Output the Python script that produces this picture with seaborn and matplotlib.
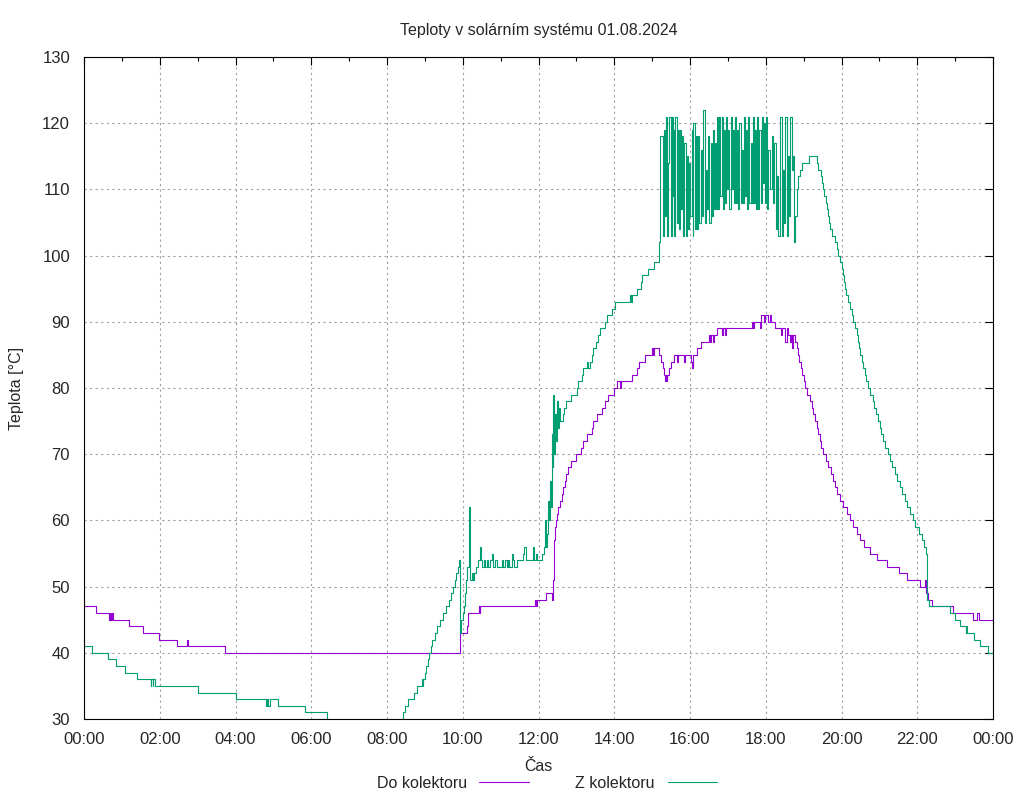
import matplotlib
matplotlib.use("Agg")
import matplotlib.pyplot as plt
from matplotlib.lines import Line2D
from matplotlib.ticker import MultipleLocator
import pandas as pd
import seaborn as sns

# --- data (time in hours, temperature in degC) ---
nazev = "Teploty v solárním systému 01.08.2024"
serie = ["Do kolektoru", "Z kolektoru"]
barvy = ["#9400d3", "#009e73"]
popisky_casu = ["00:00", "02:00", "04:00", "06:00", "08:00", "10:00", "12:00",
                "14:00", "16:00", "18:00", "20:00", "22:00", "00:00"]

# Do kolektoru
do_noc_cas = [0.00, 0.31, 0.67, 0.69, 0.71, 0.73, 0.76, 1.19, 1.57, 1.99,
              2.46, 2.71, 2.74, 3.72, 9.93, 10.12, 10.15, 10.44, 10.45, 10.46,
              11.91, 11.93, 11.95, 12.21, 12.36]
do_noc_tep = [47, 46, 45, 46, 45, 46, 45, 44, 43, 42,
              41, 42, 41, 40, 43, 44, 46, 47, 46, 47,
              48, 47, 48, 49, 48]

do_den_cas = [12.39, 12.41, 12.43, 12.46, 12.49, 12.52, 12.57, 12.61, 12.66, 12.70,
              12.73, 12.79, 12.85, 12.99, 13.11, 13.18, 13.27, 13.40, 13.45, 13.55,
              13.67, 13.76, 13.83, 14.00, 14.08, 14.15, 14.19, 14.46, 14.59, 14.66,
              14.81, 14.99, 15.02, 15.04, 15.18, 15.23, 15.28, 15.31, 15.33, 15.36,
              15.38, 15.40, 15.45, 15.49, 15.58, 15.65, 15.67, 15.84, 15.86, 16.02,
              16.05, 16.07, 16.09, 16.18, 16.28, 16.49, 16.52, 16.55, 16.60, 16.63,
              16.70, 16.84, 16.87, 16.93, 16.96, 17.63, 17.66, 17.69, 17.85, 17.87,
              17.95, 17.98, 18.05, 18.10, 18.15]
do_den_tep = [51, 57, 59, 60, 61, 62, 63, 64, 65, 66,
              67, 68, 69, 70, 71, 72, 73, 74, 75, 76,
              77, 78, 79, 80, 81, 80, 81, 82, 83, 84,
              85, 86, 85, 86, 85, 84, 83, 82, 81, 82,
              81, 82, 83, 84, 85, 84, 85, 84, 85, 84,
              83, 84, 85, 86, 87, 88, 87, 88, 87, 88,
              89, 88, 89, 88, 89, 90, 89, 90, 89, 91,
              90, 91, 90, 91, 90]

do_vecer_cas = [18.24, 18.40, 18.43, 18.51, 18.56, 18.60, 18.64, 18.67, 18.70, 18.73,
                18.77, 18.82, 18.86, 18.89, 18.92, 18.96, 19.00, 19.04, 19.10, 19.17,
                19.21, 19.26, 19.30, 19.34, 19.38, 19.43, 19.47, 19.52, 19.60, 19.65,
                19.72, 19.78, 19.83, 19.89, 19.96, 20.05, 20.14, 20.22, 20.30, 20.40,
                20.49, 20.60, 20.75, 20.93, 21.19, 21.53, 21.74, 22.06, 22.21, 22.24,
                22.29, 22.38, 22.95, 23.46, 23.59, 23.64, 24.00]
do_vecer_tep = [89, 88, 89, 87, 89, 88, 87, 88, 86, 88,
                87, 86, 85, 84, 83, 82, 81, 80, 79, 78,
                77, 76, 75, 74, 73, 72, 71, 70, 69, 68,
                67, 66, 65, 64, 63, 62, 61, 60, 59, 58,
                57, 56, 55, 54, 53, 52, 51, 50, 51, 49,
                48, 47, 46, 45, 46, 45, 45]

# Z kolektoru
z_noc_cas = [0.00, 0.20, 0.64, 0.85, 1.09, 1.41, 1.76, 1.78, 1.81, 1.83,
             1.88, 3.02, 4.01, 4.81, 4.83, 4.86, 4.90, 5.13, 5.83, 6.42]
z_noc_tep = [41, 40, 39, 38, 37, 36, 35, 36, 35, 36,
             35, 34, 33, 32, 33, 32, 33, 32, 31, 29]

z_rano_cas = [8.37, 8.41, 8.47, 8.55, 8.70, 8.78, 8.92, 8.94, 8.96, 9.00,
              9.03, 9.07, 9.11, 9.16, 9.20, 9.26, 9.32, 9.40, 9.47, 9.55,
              9.64, 9.70, 9.75, 9.79, 9.83, 9.87, 9.89, 9.92, 9.96, 10.00,
              10.02, 10.05, 10.09, 10.12, 10.16, 10.18, 10.20, 10.24, 10.27, 10.30,
              10.35, 10.41, 10.46, 10.48, 10.52, 10.56, 10.60, 10.63, 10.66, 10.72,
              10.76, 10.80, 10.86, 10.90, 11.03, 11.07, 11.11, 11.16, 11.20, 11.23,
              11.29, 11.32, 11.35, 11.42, 11.60, 11.63, 11.66, 11.86, 11.89, 11.93,
              11.96]
z_rano_tep = [30, 31, 32, 33, 34, 35, 36, 35, 36, 37,
              38, 39, 40, 41, 42, 43, 44, 45, 46, 47,
              48, 49, 50, 51, 52, 53, 54, 43, 45, 46,
              47, 49, 51, 53, 62, 59, 51, 52, 51, 52,
              53, 54, 56, 54, 53, 54, 53, 54, 53, 54,
              55, 53, 54, 53, 54, 53, 54, 53, 54, 53,
              55, 54, 53, 54, 55, 56, 54, 56, 54, 55,
              54]

z_odp_cas = [12.04, 12.08, 12.15, 12.17, 12.19, 12.22, 12.25, 12.27, 12.30, 12.32,
             12.35, 12.37, 12.39, 12.41, 12.44, 12.46, 12.49, 12.51, 12.54, 12.58,
             12.64, 12.67, 12.73, 12.85, 13.01, 13.05, 13.14, 13.18, 13.27, 13.32,
             13.35, 13.40, 13.45, 13.52, 13.58, 13.62, 13.76, 13.82, 13.93, 14.02,
             14.42, 14.44, 14.46, 14.59, 14.70, 14.72, 14.90, 15.05, 15.17, 15.19,
             15.20]
z_odp_tep = [54, 55, 56, 60, 56, 58, 63, 60, 66, 62,
             73, 68, 79, 70, 76, 72, 78, 74, 77, 75,
             76, 77, 78, 79, 80, 81, 82, 83, 84, 83,
             84, 85, 86, 87, 88, 89, 90, 91, 92, 93,
             94, 93, 94, 95, 96, 97, 98, 99, 100, 102,
             108]

# kolektor kmita mezi ~103 a ~121 C
z_kmit_cas = [15.208, 15.278, 15.314, 15.340, 15.366, 15.384, 15.428, 15.454, 15.490, 15.516,
              15.542, 15.560, 15.586, 15.604, 15.648, 15.675, 15.710, 15.736, 15.763, 15.789,
              15.824, 15.851, 15.886, 15.912, 15.939, 15.983, 16.000, 16.044, 16.071, 16.088,
              16.132, 16.159, 16.194, 16.220, 16.247, 16.282, 16.308, 16.335, 16.352, 16.396,
              16.423, 16.449, 16.484, 16.511, 16.546, 16.572, 16.599, 16.634, 16.660, 16.687,
              16.722, 16.748, 16.775, 16.801, 16.836, 16.863, 16.898, 16.924, 16.951, 16.986,
              17.012, 17.039, 17.074, 17.100, 17.127, 17.162, 17.188, 17.214, 17.250, 17.276,
              17.303, 17.338, 17.364, 17.391, 17.426, 17.452, 17.479, 17.514, 17.540, 17.567,
              17.602, 17.628, 17.655, 17.690, 17.716, 17.743, 17.778, 17.804, 17.831, 17.866,
              17.892, 17.919, 17.954, 17.980, 18.007, 18.042, 18.068, 18.112, 18.156, 18.200,
              18.227, 18.271, 18.306, 18.332, 18.376, 18.420, 18.447, 18.482, 18.517, 18.552,
              18.579, 18.605, 18.640, 18.684, 18.711, 18.746, 18.772, 18.816, 18.860, 18.904,
              18.948]
z_kmit_tep = [118, 103, 119, 106, 121, 103, 114, 121, 103, 121,
              109, 119, 103, 121, 105, 119, 104, 119, 107, 118,
              103, 117, 103, 115, 104, 114, 106, 119, 103, 120,
              104, 118, 104, 118, 105, 116, 106, 119, 122, 105,
              113, 107, 118, 105, 117, 106, 119, 107, 117, 107,
              121, 107, 121, 109, 121, 107, 119, 108, 121, 110,
              119, 107, 121, 110, 119, 108, 121, 108, 119, 107,
              120, 108, 116, 108, 121, 109, 119, 107, 121, 108,
              117, 108, 121, 108, 119, 107, 121, 107, 119, 108,
              121, 111, 120, 108, 121, 107, 116, 110, 118, 108,
              117, 104, 112, 103, 121, 103, 113, 105, 121, 103,
              115, 106, 121, 113, 115, 102, 106, 110, 112, 113,
              114]

z_vecer_cas = [19.15, 19.34, 19.38, 19.45, 19.49, 19.52, 19.55, 19.58, 19.61, 19.64,
               19.67, 19.70, 19.76, 19.83, 19.88, 19.92, 19.96, 20.00, 20.03, 20.06,
               20.09, 20.13, 20.17, 20.22, 20.27, 20.31, 20.36, 20.40, 20.44, 20.47,
               20.50, 20.54, 20.58, 20.62, 20.66, 20.70, 20.74, 20.82, 20.87, 20.92,
               20.96, 21.01, 21.05, 21.10, 21.15, 21.22, 21.28, 21.34, 21.40, 21.47,
               21.54, 21.60, 21.67, 21.73, 21.81, 21.88, 21.94, 22.04, 22.13, 22.19,
               22.22, 22.25, 22.32, 22.86, 22.99, 23.12, 23.28, 23.30, 23.32, 23.50,
               23.66, 23.88, 24.00]
z_vecer_tep = [115, 114, 113, 112, 111, 110, 109, 108, 107, 106,
               105, 104, 103, 102, 101, 100, 99, 98, 97, 96,
               95, 94, 93, 92, 91, 90, 89, 88, 87, 86,
               85, 84, 83, 82, 81, 80, 79, 78, 77, 76,
               75, 74, 73, 72, 71, 70, 69, 68, 67, 66,
               65, 64, 63, 62, 61, 60, 59, 58, 57, 56,
               55, 48, 47, 46, 45, 44, 43, 44, 43, 42,
               41, 40, 40]


def create_plot():
    do_cas = do_noc_cas + do_den_cas + do_vecer_cas
    do_tep = do_noc_tep + do_den_tep + do_vecer_tep
    z_cas = z_noc_cas + z_rano_cas + z_odp_cas + z_kmit_cas + z_vecer_cas
    z_tep = z_noc_tep + z_rano_tep + z_odp_tep + z_kmit_tep + z_vecer_tep

    df = pd.concat([
        pd.DataFrame({"hodiny": do_cas, "teplota": do_tep, "serie": serie[0]}),
        pd.DataFrame({"hodiny": z_cas, "teplota": z_tep, "serie": serie[1]}),
    ], ignore_index=True)

    sns.set_style("white")
    plt.rcParams["font.family"] = ["Liberation Sans", "DejaVu Sans"]
    plt.rcParams["font.size"] = 11.5

    fig = plt.figure(figsize=(10.24, 8), dpi=100)
    ax = fig.add_axes([84 / 1024, 81 / 800, 909 / 1024, 662 / 800])

    sns.lineplot(data=df, x="hodiny", y="teplota", hue="serie", hue_order=serie,
                 palette=barvy, estimator=None, sort=False, drawstyle="steps-post",
                 linewidth=0.8, legend=False, ax=ax)

    ax.set_xlim(0, 24)
    ax.set_ylim(30, 130)
    ax.set_xticks(range(0, 25, 2))
    ax.set_xticklabels(popisky_casu)
    ax.xaxis.set_minor_locator(MultipleLocator(1))
    ax.set_yticks(range(30, 131, 10))

    ax.set_axisbelow(True)
    ax.grid(True, which="major", color="#a0a0a0", linestyle=(0, (2, 3)), linewidth=0.8)
    ax.tick_params(which="both", direction="in", top=True, right=True,
                   width=0.8, color="black", labelsize=12)
    ax.tick_params(which="major", length=6)
    ax.tick_params(which="minor", length=3)
    ax.tick_params(axis="y", pad=10)
    ax.tick_params(axis="x", pad=9)
    for s in ax.spines.values():
        s.set_color("black")
        s.set_linewidth(0.8)

    ax.set_xlabel("Čas", fontsize=11.5)
    ax.xaxis.set_label_coords(0.5, -0.061)
    ax.set_ylabel("Teplota [°C]", fontsize=11.5)
    ax.yaxis.set_label_coords(-0.066, 0.5)
    ax.set_title(nazev, fontsize=11.5, pad=16)

    handles = [Line2D([], [], color=c, linewidth=0.8) for c in barvy]
    fig.legend(handles, serie, loc="center", bbox_to_anchor=(0.534, 0.021), ncol=2,
               frameon=False, markerfirst=False, handlelength=3.1, handletextpad=0.8,
               columnspacing=2.9, fontsize=11.5, borderpad=0)

    fig.savefig("out.png", dpi=100)
    plt.close(fig)


if __name__ == "__main__":
    create_plot()
